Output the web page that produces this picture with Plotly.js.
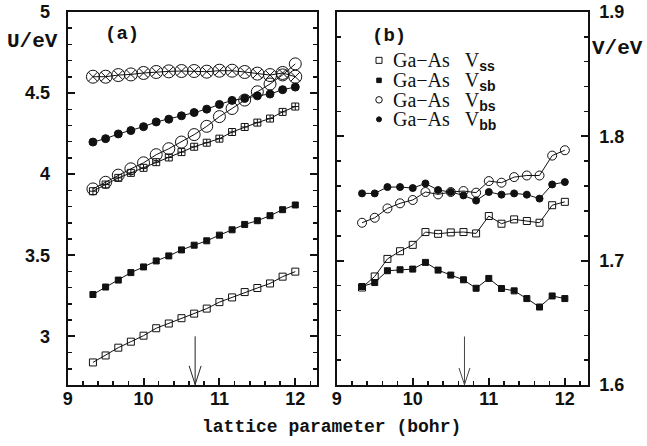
<!DOCTYPE html>
<html><head><meta charset="utf-8">
<script src="https://cdn.plot.ly/plotly-3.0.1.min.js"></script>
<style>html,body{margin:0;padding:0;background:#fff}</style>
</head><body>
<div id="chart" style="width:647px;height:446px"></div>
<script>
// lattice parameter (bohr)
const latticeParam = [9.333, 9.5, 9.667, 9.833, 10.0, 10.167, 10.333, 10.5, 10.667, 10.833, 11.0, 11.167, 11.333, 11.5, 11.667, 11.833, 12.0];

// Panel (a): U / eV
const uCrossCircle = [4.601, 4.601, 4.611, 4.615, 4.624, 4.630, 4.634, 4.636, 4.636, 4.632, 4.638, 4.638, 4.630, 4.620, 4.611, 4.624, 4.601];
const uFilledCircle = [4.198, 4.219, 4.248, 4.269, 4.293, 4.322, 4.339, 4.360, 4.380, 4.401, 4.430, 4.455, 4.467, 4.483, 4.494, 4.521, 4.537];
const uOpenCircle = [3.909, 3.950, 3.994, 4.033, 4.070, 4.120, 4.157, 4.198, 4.244, 4.295, 4.355, 4.405, 4.457, 4.508, 4.556, 4.612, 4.680];
const uCrossSquare = [3.895, 3.936, 3.977, 4.008, 4.039, 4.074, 4.103, 4.136, 4.169, 4.194, 4.219, 4.260, 4.291, 4.318, 4.343, 4.384, 4.417];
const uFilledSquare = [3.258, 3.304, 3.347, 3.393, 3.428, 3.465, 3.496, 3.533, 3.562, 3.589, 3.624, 3.657, 3.690, 3.713, 3.744, 3.781, 3.810];
const uOpenSquare = [2.839, 2.882, 2.930, 2.967, 3.004, 3.050, 3.079, 3.112, 3.140, 3.171, 3.211, 3.240, 3.273, 3.298, 3.326, 3.368, 3.399];

// Panel (b): V / eV
const vSS = [1.6784, 1.6873, 1.7014, 1.7076, 1.7127, 1.7230, 1.7216, 1.7227, 1.7230, 1.7219, 1.7359, 1.7297, 1.7332, 1.7319, 1.7305, 1.7446, 1.7473];
const vSB = [1.6792, 1.6824, 1.6919, 1.6927, 1.6932, 1.6986, 1.6924, 1.6884, 1.6846, 1.6778, 1.6857, 1.6776, 1.6757, 1.6695, 1.6627, 1.6716, 1.6695];
const vBS = [1.7305, 1.7345, 1.7420, 1.7461, 1.7488, 1.7552, 1.7533, 1.7552, 1.7560, 1.7547, 1.7640, 1.7627, 1.7672, 1.7685, 1.7685, 1.7845, 1.7888];
const vBB = [1.7541, 1.7541, 1.7592, 1.7592, 1.7584, 1.7621, 1.7568, 1.7552, 1.7525, 1.7483, 1.7552, 1.7531, 1.7541, 1.7531, 1.7499, 1.7613, 1.7632];

const subscripts = ['ss', 'sb', 'bs', 'bb'];
const xTickVals = [9, 10, 11, 12];
const equilibriumLattice = 10.68;

const BLK = '#111';
const SUBSPAN = '<span style="font-family:Liberation Sans, Arial, sans-serif;font-weight:bold">';
function legendLabel(s) { return 'Ga\u2212As\u00a0\u00a0\u00a0V<sub>' + SUBSPAN + s + '</span></sub>'; }

function tr(y, sym, size, xa, ya) {
  return {
    x: latticeParam, y: y, xaxis: xa, yaxis: ya, type: 'scatter', mode: 'lines+markers',
    line: {color: BLK, width: 1},
    marker: {symbol: sym, size: size, color: BLK, line: {color: BLK, width: 1}},
    showlegend: false, hoverinfo: 'skip'
  };
}
function proxy(sym, size, leg) {
  return {x: [null], y: [null], xaxis: 'x2', yaxis: 'y2', type: 'scatter', mode: 'markers', name: '', legend: leg,
    marker: {symbol: sym, size: size, color: BLK, line: {color: BLK, width: 1}}, showlegend: true, hoverinfo: 'skip'};
}

const data = [
  tr(uCrossCircle, 'circle-x-open', 13, 'x', 'y'),
  tr(uFilledCircle, 'circle', 8, 'x', 'y'),
  tr(uOpenCircle, 'circle-open', 12, 'x', 'y'),
  tr(uCrossSquare, 'square-cross-open', 7, 'x', 'y'),
  tr(uFilledSquare, 'square', 6, 'x', 'y'),
  tr(uOpenSquare, 'square-open', 7, 'x', 'y'),
  tr(vSS, 'square-open', 7, 'x2', 'y2'),
  tr(vSB, 'square', 6, 'x2', 'y2'),
  tr(vBS, 'circle-open', 9, 'x2', 'y2'),
  tr(vBB, 'circle', 7, 'x2', 'y2'),
  proxy('square-open', 6, 'legend'),
  proxy('square', 4.5, 'legend2'),
  proxy('circle-open', 6.5, 'legend3'),
  proxy('circle', 5, 'legend4')
];

const SANS = 'Liberation Sans, Arial, sans-serif';
const MONO = 'Liberation Mono, Courier New, monospace';
const SERIF = 'Liberation Serif, Times New Roman, serif';
const tickFont = {family: SANS, size: 18, color: '#111', weight: 'bold'};
const xCommon = {
  tickvals: xTickVals, ticks: 'inside', ticklen: 7, tickwidth: 2, tickcolor: BLK,
  showline: true, linewidth: 2, linecolor: BLK, mirror: true, showgrid: false, zeroline: false,
  tickfont: tickFont, ticklabelstandoff: -4,
  minor: {dtick: 0.2, ticks: 'inside', ticklen: 4, tickwidth: 1.5, tickcolor: BLK, showgrid: false}
};
const yCommon = {
  ticks: 'inside', ticklen: 7, tickwidth: 2, tickcolor: BLK,
  showline: true, linewidth: 2, linecolor: BLK, mirror: 'ticks', showgrid: false, zeroline: false,
  tickfont: tickFont
};
const yDom = [0.1368, 0.9731];

const legendRows = [60.5, 80.5, 100, 119.5];
function legendAt(rowY) {
  return {x: 359/647, y: 1 - rowY/446, xanchor: 'left', yanchor: 'middle', bgcolor: 'rgba(0,0,0,0)',
    borderwidth: 0, font: {family: SERIF, size: 19, color: '#111'}, itemwidth: 30};
}
const monoFont = (sz) => ({family: MONO, size: sz, color: '#111', weight: 'bold'});

const annotations = [
  {text: 'U/eV', xref: 'paper', yref: 'paper', x: 32/647, y: 1 - 41/446, showarrow: false, xanchor: 'center', yanchor: 'middle', font: monoFont(21)},
  {text: 'V/eV', xref: 'paper', yref: 'paper', x: 617.5/647, y: 1 - 48.5/446, showarrow: false, xanchor: 'center', yanchor: 'middle', font: monoFont(21)},
  {text: '(a)', xref: 'paper', yref: 'paper', x: 122/647, y: 1 - 34/446, showarrow: false, xanchor: 'center', yanchor: 'middle', font: monoFont(19)},
  {text: '(b)', xref: 'paper', yref: 'paper', x: 389/647, y: 1 - 36/446, showarrow: false, xanchor: 'center', yanchor: 'middle', font: monoFont(19)},
  {text: 'lattice parameter (bohr)', xref: 'paper', yref: 'paper', x: 331.5/647, y: 1 - 427/446, showarrow: false, xanchor: 'center', yanchor: 'middle', font: monoFont(18)}
];
subscripts.forEach((s, i) => annotations.push({
  text: legendLabel(s), xref: 'paper', yref: 'paper', x: 391/647, y: 1 - (legendRows[i] + 1)/446,
  showarrow: false, xanchor: 'left', align: 'left', yanchor: 'middle', font: {family: SERIF, size: 20, color: '#111'}
}));

const layout = {
  width: 647, height: 446,
  margin: {l: 0, r: 0, t: 0, b: 0},
  paper_bgcolor: '#fff', plot_bgcolor: '#fff',
  xaxis: Object.assign({}, xCommon, {domain: [0.1046, 0.4904], range: [9, 12.29], anchor: 'y'}),
  xaxis2: Object.assign({}, xCommon, {domain: [0.5204, 0.9083], range: [9, 12.3], anchor: 'y2'}),
  yaxis: Object.assign({}, yCommon, {domain: yDom, range: [2.7, 5], dtick: 0.5, tick0: 0, anchor: 'x', ticklabelstandoff: 12,
    minor: {dtick: 0.1, ticks: 'inside', ticklen: 4, tickwidth: 1.5, tickcolor: BLK, showgrid: false}}),
  yaxis2: Object.assign({}, yCommon, {domain: yDom, range: [1.6, 1.9], dtick: 0.1, tick0: 0, anchor: 'x2', side: 'right', ticklabelstandoff: 6,
    minor: {dtick: 0.02, ticks: 'inside', ticklen: 4, tickwidth: 1.5, tickcolor: BLK, showgrid: false}}),
  showlegend: true,
  legend: legendAt(legendRows[0]),
  legend2: legendAt(legendRows[1]),
  legend3: legendAt(legendRows[2]),
  legend4: legendAt(legendRows[3]),
  annotations: annotations,
  shapes: [
    {type: 'line', xref: 'x', yref: 'y', x0: equilibriumLattice, x1: equilibriumLattice, y0: 3.0, y1: 2.7, line: {color: '#222', width: 1}},
    {type: 'path', xref: 'x', yref: 'y', path: `M ${equilibriumLattice-0.079},2.818 L ${equilibriumLattice},2.703 L ${equilibriumLattice+0.079},2.818`, line: {color: '#222', width: 1}},
    {type: 'line', xref: 'x2', yref: 'y2', x0: equilibriumLattice, x1: equilibriumLattice, y0: 1.639, y1: 1.6, line: {color: '#444', width: 1}},
    {type: 'path', xref: 'x2', yref: 'y2', path: `M ${equilibriumLattice-0.072},1.6137 L ${equilibriumLattice},1.6003 L ${equilibriumLattice+0.072},1.6137`, line: {color: '#444', width: 1}}
  ]
};

Plotly.newPlot('chart', data, layout, {staticPlot: true, displayModeBar: false});
</script>
</body></html>
